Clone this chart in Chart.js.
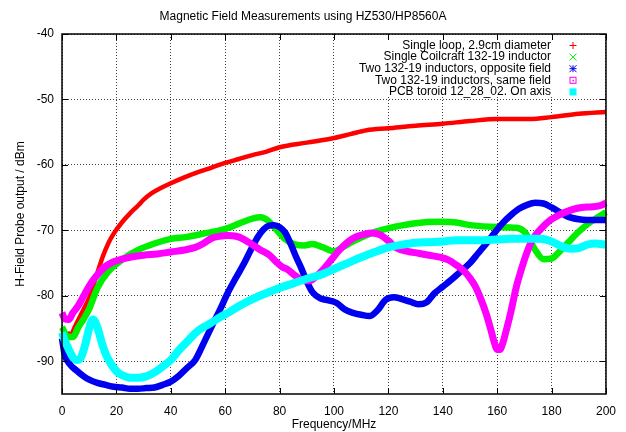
<!DOCTYPE html>
<html><head><meta charset="utf-8">
<script src="https://cdn.jsdelivr.net/npm/chart.js@4.4.0/dist/chart.umd.min.js"></script>
<style>html,body{margin:0;padding:0;background:#fff}</style>
</head><body>
<canvas id="c" width="626" height="432" style="width:626px;height:432px;display:block"></canvas>
<script>
const chartTitle = "Magnetic Field Measurements using HZ530/HP8560A";
const xTitle = "Frequency/MHz";
const yTitle = "H-Field Probe output / dBm";
const xTicks = [0, 20, 40, 60, 80, 100, 120, 140, 160, 180, 200];
const yTicks = [-90, -80, -70, -60, -50, -40];
const seriesNames = [
  "Single loop, 2.9cm diameter",
  "Single Coilcraft 132-19 inductor",
  "Two 132-19 inductors, opposite field",
  "Two 132-19 inductors, same field",
  "PCB toroid 12_28_02. On axis"
];

const loopX = [2, 3, 5, 8, 10, 13, 15, 17, 19, 22, 25, 28, 30, 33, 36, 40, 45, 50, 55, 60, 65, 70, 75, 80, 90, 100, 106, 112, 120, 130, 140, 150, 160, 172, 180, 190, 200];
const loopY = [-85.6, -86.0, -84.5, -82.0, -80.3, -76.5, -74.0, -72.0, -70.5, -68.8, -67.4, -66.2, -65.3, -64.3, -63.6, -62.8, -61.9, -61.1, -60.4, -59.7, -59.1, -58.5, -58.0, -57.3, -56.6, -55.9, -55.3, -54.7, -54.4, -54.0, -53.7, -53.3, -53.0, -53.0, -52.7, -52.2, -51.9];

const coilX = [0, 2, 4, 6, 8, 10, 13, 17, 22, 28, 34, 40, 46, 52, 58, 62, 66, 70, 73, 76, 79, 82, 86, 89, 92, 96, 100, 103, 106, 110, 114, 118, 123, 130, 139, 145, 150, 160, 167, 170, 172, 174, 177, 180, 183, 186, 190, 194, 197, 200];
const coilY = [-84.8, -86.2, -86.3, -84.8, -83.5, -82.0, -78.8, -76.3, -74.5, -73.0, -72.0, -71.3, -71.0, -70.5, -70.0, -69.5, -68.8, -68.2, -68.0, -68.6, -70.0, -71.3, -72.2, -72.3, -72.1, -72.6, -73.2, -72.6, -71.9, -71.1, -70.4, -69.9, -69.4, -68.9, -68.7, -68.8, -69.2, -69.5, -69.6, -70.2, -71.5, -73.0, -74.4, -74.3, -73.2, -71.9, -70.2, -68.8, -68.0, -67.2];

const oppX = [0, 1, 3, 5, 8, 10, 13, 16, 19, 22, 25, 28, 31, 34, 37, 40, 43, 46, 49, 52, 55, 58, 61, 64, 67, 70, 72, 74, 76, 78, 80, 82, 84, 86, 88, 90, 92, 95, 98, 101, 104, 107, 110, 113, 116, 119, 122, 125, 128, 131, 134, 137, 140, 143, 146, 150, 153, 156, 159, 162, 165, 168, 171, 174, 177, 180, 183, 186, 190, 193, 196, 200];
const oppY = [-86.5, -89.0, -90.5, -91.3, -92.3, -92.8, -93.3, -93.6, -93.9, -94.0, -94.2, -94.2, -94.1, -94.0, -93.6, -93.1, -92.2, -91.0, -89.8, -87.3, -84.7, -82.2, -79.5, -77.2, -75.0, -72.5, -71.0, -69.9, -69.3, -69.2, -69.5, -70.3, -72.0, -74.0, -75.8, -77.8, -79.4, -80.4, -80.7, -81.1, -82.1, -82.6, -82.9, -83.1, -82.2, -80.6, -80.2, -80.5, -80.9, -81.3, -81.0, -79.6, -78.6, -77.6, -76.5, -75.0, -73.5, -72.0, -70.4, -68.9, -67.7, -66.7, -66.1, -65.8, -65.9, -66.5, -67.2, -67.9, -68.3, -68.4, -68.4, -68.4];

const sameX = [0, 1, 2.5, 4, 6, 8, 10, 12, 14, 16, 19, 22, 25, 30, 35, 40, 45, 49, 52, 55, 58, 61, 64, 67, 70, 73, 76, 79, 81, 83, 86, 89, 91, 93, 96, 99, 102, 105, 108, 111, 114, 117, 120, 123, 127, 131, 135, 139, 142, 145, 148, 150, 152, 154, 156, 158, 159, 160, 161, 162, 163, 165, 167, 169, 171, 173, 176, 179, 183, 187, 191, 195, 198, 200];
const sameY = [-82.6, -83.5, -83.6, -82.6, -81.5, -80.0, -78.5, -77.3, -76.3, -75.5, -74.8, -74.4, -74.1, -73.8, -73.6, -73.3, -73.0, -72.6, -72.0, -71.2, -70.9, -70.8, -70.9, -71.4, -72.2, -73.0, -73.7, -74.9, -75.6, -76.0, -77.0, -77.7, -77.7, -77.2, -76.0, -74.5, -73.0, -71.8, -71.0, -70.6, -70.4, -70.7, -71.6, -72.7, -73.2, -73.5, -73.8, -74.1, -74.5, -75.3, -76.3, -77.3, -78.6, -80.5, -82.8, -85.7, -87.2, -88.2, -88.2, -87.3, -85.8, -82.5, -78.7, -75.8, -73.3, -71.4, -69.8, -68.6, -67.6, -66.9, -66.5, -66.4, -66.2, -65.8];

const pcbX = [0, 1, 2.5, 4, 5.5, 7, 8.5, 10, 11.4, 13, 14.5, 16, 18, 20, 22, 25, 28, 31, 34, 37, 40, 43, 46, 49, 52, 55, 58, 61, 65, 70, 75, 80, 85, 90, 95, 100, 105, 110, 115, 120, 125, 130, 135, 140, 145, 150, 155, 160, 165, 170, 175, 178, 181, 184, 187, 190, 193, 196, 200];
const pcbY = [-85.6, -86.8, -88.2, -89.4, -89.8, -89.4, -87.5, -85.0, -83.6, -84.8, -87.0, -88.8, -90.4, -91.5, -92.1, -92.5, -92.5, -92.3, -91.7, -90.8, -89.8, -88.3, -87.0, -85.7, -84.8, -84.1, -83.3, -82.6, -81.6, -80.5, -79.6, -78.8, -78.1, -77.4, -76.8, -75.9, -75.0, -74.1, -73.3, -72.6, -72.2, -71.9, -71.8, -71.7, -71.5, -71.5, -71.5, -71.4, -71.3, -71.3, -71.3, -71.4, -71.9, -72.5, -72.8, -72.7, -72.2, -72.0, -72.2];

const colors = ["#ff0000", "#00f000", "#0000f0", "#ff00ff", "#00ffff"];
const widths = [4.5, 6.5, 6.5, 7, 8];
const markers = ["plus", "cross", "star", "square", "fsquare"];

function pts(xs, ys) { return xs.map((x, i) => ({ x: x, y: ys[i] })); }
const allX = [loopX, coilX, oppX, sameX, pcbX];
const allY = [loopY, coilY, oppY, sameY, pcbY];

const datasets = seriesNames.map((name, i) => ({
  label: name,
  data: pts(allX[i], allY[i]),
  borderColor: colors[i],
  backgroundColor: colors[i],
  borderWidth: widths[i],
  pointRadius: 0,
  cubicInterpolationMode: 'monotone',
  fill: false,
  clip: false,
  order: 5 - i
}));

const FONT = "'Liberation Sans', Arial, sans-serif";

const frame = {
  id: 'frame',
  beforeDatasetsDraw(chart) {
    const ctx = chart.ctx;
    ctx.save();
    ctx.fillStyle = '#fff';
    ctx.fillRect(357, 35, 247, 62);
    ctx.restore();
  },
  afterDraw(chart) {
    const ctx = chart.ctx, a = chart.chartArea;
    const xs = chart.scales.x, ys = chart.scales.y;
    ctx.save();
    ctx.strokeStyle = '#000';
    ctx.lineWidth = 1;
    ctx.beginPath();
    xTicks.forEach(v => {
      const px = Math.round(xs.getPixelForValue(v)) + 0.5;
      ctx.moveTo(px, a.bottom); ctx.lineTo(px, a.bottom - 6);
      ctx.moveTo(px, a.top); ctx.lineTo(px, a.top + 6);
    });
    yTicks.forEach(v => {
      const py = Math.round(ys.getPixelForValue(v)) + 0.5;
      ctx.moveTo(a.left, py); ctx.lineTo(a.left + 6, py);
      ctx.moveTo(a.right, py); ctx.lineTo(a.right - 6, py);
    });
    ctx.stroke();
    ctx.lineWidth = 1.5;
    ctx.strokeRect(a.left, a.top, a.right - a.left, a.bottom - a.top);

    // legend
    ctx.font = '12px ' + FONT;
    ctx.textAlign = 'right';
    ctx.textBaseline = 'middle';
    const y0 = 45.5, dy = 11.6, tx = 551, mx = 573, r = 3.5;
    chart.data.datasets.forEach((ds, i) => {
      const y = y0 + i * dy;
      ctx.fillStyle = '#000';
      ctx.fillText(ds.label, tx, y);
      ctx.strokeStyle = colors[i];
      ctx.fillStyle = colors[i];
      ctx.lineWidth = 1;
      ctx.beginPath();
      const m = markers[i];
      if (m === 'plus' || m === 'star') {
        ctx.moveTo(mx - r, y); ctx.lineTo(mx + r, y);
        ctx.moveTo(mx, y - r); ctx.lineTo(mx, y + r);
      }
      if (m === 'cross' || m === 'star') {
        ctx.moveTo(mx - r, y - r); ctx.lineTo(mx + r, y + r);
        ctx.moveTo(mx - r, y + r); ctx.lineTo(mx + r, y - r);
      }
      ctx.stroke();
      if (m === 'square') {
        ctx.strokeRect(mx - r + 0.5, y - r + 0.5, 2 * r - 1, 2 * r - 1);
        ctx.fillRect(mx - 0.5, y - 0.5, 1.5, 1.5);
      }
      if (m === 'fsquare') {
        ctx.fillRect(mx - r, y - r, 2 * r, 2 * r);
      }
    });
    ctx.restore();
  }
};

new Chart(document.getElementById('c'), {
  type: 'line',
  data: { datasets: datasets },
  options: {
    responsive: false,
    animation: false,
    devicePixelRatio: 1,
    layout: { padding: { left: 0, right: 20, top: 0, bottom: 0 } },
    plugins: {
      legend: { display: false },
      tooltip: { enabled: false },
      title: {
        display: true,
        text: chartTitle,
        color: '#000',
        font: { family: FONT, size: 12, weight: 'normal' },
        padding: { top: 9, bottom: 10.6 }
      }
    },
    scales: {
      x: {
        type: 'linear',
        min: 0, max: 200,
        afterBuildTicks(s) { s.ticks = xTicks.map(v => ({ value: v })); },
        afterFit(s) { s.height = 38; },
        grid: { color: 'rgba(0,0,0,0.75)', lineWidth: 1, drawTicks: false },
        border: { display: false, dash: [1, 2] },
        ticks: { color: '#000', font: { family: FONT, size: 12 }, padding: 10, maxRotation: 0, autoSkip: false },
        title: { display: true, text: xTitle, color: '#000', font: { family: FONT, size: 12 }, padding: { top: 0, bottom: 0 } }
      },
      y: {
        type: 'linear',
        min: -95, max: -40,
        afterBuildTicks(s) { s.ticks = yTicks.map(v => ({ value: v })); },
        afterFit(s) { s.width = 62; },
        grid: { color: 'rgba(0,0,0,0.75)', lineWidth: 1, drawTicks: false },
        border: { display: false, dash: [1, 2] },
        ticks: { color: '#000', font: { family: FONT, size: 12 }, padding: 8 },
        title: { display: true, text: yTitle, color: '#000', font: { family: FONT, size: 12 }, padding: { top: 13, bottom: 0 } }
      }
    }
  },
  plugins: [frame]
});
</script>
</body></html>
